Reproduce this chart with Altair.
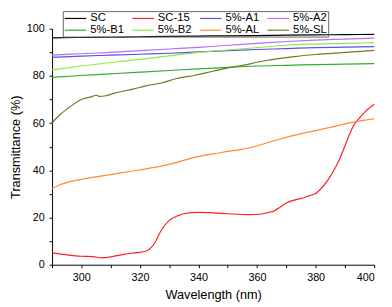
import altair as alt
import pandas as pd

# ---- data ----
SERIES = ["SC", "SC-15", "5%-A1", "5%-A2", "5%-B1", "5%-B2", "5%-AL", "5%-SL"]
COLORS = ["#000000", "#ff2020", "#5a50e6", "#b86ef0", "#2eae2e", "#86f040", "#ff8a3c", "#707a1e"]

sc_x = [290, 300, 310, 320, 330, 340, 350, 360, 370, 380, 390, 400]
sc_y = [96.1, 96.3, 96.4, 96.6, 96.8, 96.9, 97.0, 97.1, 97.3, 97.4, 97.5, 97.6]

sc15_x = [290, 295, 300, 304, 307, 310, 314, 319, 322, 324, 325, 327, 330, 333, 335, 340,
          345, 350, 357, 361, 364, 366, 368, 370, 373, 376, 378, 380, 382, 384, 386, 388,
          390, 391.6, 393, 395, 397, 398.3, 400]
sc15_y = [5.0, 4.2, 3.6, 3.4, 2.9, 3.3, 4.3, 5.1, 5.7, 7.5, 9.1, 14.0, 18.8, 20.8, 21.6, 22.2,
          22.0, 21.6, 21.2, 21.4, 22.2, 22.9, 24.5, 26.2, 27.5, 28.4, 29.3, 30.2, 32.5, 35.5, 39.5, 44.3,
          50.3, 55.4, 59.0, 62.2, 65.0, 66.4, 68.0]

a1_x = [290, 300, 310, 320, 330, 340, 350, 360, 370, 380, 390, 400]
a1_y = [87.9, 88.4, 88.8, 89.2, 89.6, 90.2, 90.7, 91.2, 91.6, 92.0, 92.2, 92.4]

a2_x = [290, 300, 310, 320, 330, 340, 350, 360, 370, 380, 390, 400]
a2_y = [88.8, 89.4, 90.0, 90.7, 91.4, 92.1, 93.0, 93.8, 94.6, 95.2, 95.6, 96.0]

b1_x = [290, 300, 310, 320, 330, 340, 350, 356, 360, 370, 380, 390, 400]
b1_y = [79.4, 80.2, 80.9, 81.6, 82.3, 83.0, 83.6, 84.0, 84.2, 84.5, 84.8, 85.0, 85.2]

b2_x = [290, 300, 311, 320, 330, 340, 350, 360, 370, 380, 390, 400]
b2_y = [82.6, 84.2, 85.8, 87.0, 88.5, 90.0, 91.0, 92.0, 93.0, 93.5, 93.8, 94.1]

al_x = [290, 292, 295, 300, 305, 310, 317, 322, 328, 333, 339, 345, 350, 355, 359, 363,
        368, 373, 380, 386, 392, 400]
al_y = [32.3, 33.5, 34.8, 36.2, 37.2, 38.2, 39.6, 40.6, 42.0, 43.5, 45.6, 47.0, 48.0, 49.0, 50.0, 51.5,
        53.3, 54.9, 56.8, 58.5, 60.2, 61.9]

sl_x = [290, 292, 295.7, 300, 303, 305.2, 306.3, 308, 311.3, 318, 322.4, 326.9, 332.5, 339,
        345, 350, 356, 360, 365, 372.6, 380, 389, 400]
sl_y = [60.0, 62.8, 66.5, 70.0, 71.0, 71.8, 71.3, 71.5, 72.7, 74.5, 75.9, 76.9, 78.9, 80.3,
        82.0, 83.4, 84.7, 85.8, 86.9, 88.2, 89.1, 89.9, 90.8]

xs = [sc_x, sc15_x, a1_x, a2_x, b1_x, b2_x, al_x, sl_x]
ys = [sc_y, sc15_y, a1_y, a2_y, b1_y, b2_y, al_y, sl_y]

rows = []
for name, xv, yv in zip(SERIES, xs, ys):
    for a, b in zip(xv, yv):
        rows.append({"series": name, "wl": a, "T": b})
df = pd.DataFrame(rows)

FONT = "Liberation Sans"

chart = alt.Chart(df).mark_line(strokeWidth=1.2, interpolate="monotone").encode(
    x=alt.X("wl:Q", scale=alt.Scale(domain=[290, 400], nice=False, zero=False),
            axis=alt.Axis(title="Wavelength (nm)", values=list(range(290, 401, 10)),
                          labelExpr="datum.value % 20 == 0 ? datum.label : ''",
                          tickSize=3, labelPadding=4, titlePadding=6)),
    y=alt.Y("T:Q", scale=alt.Scale(domain=[0, 100], nice=False),
            axis=alt.Axis(title="Transmittance (%)", values=list(range(0, 101, 10)),
                          labelExpr="datum.value % 20 == 0 ? datum.label : ''",
                          tickSize=3, labelPadding=5, titlePadding=4)),
    color=alt.Color("series:N", scale=alt.Scale(domain=SERIES, range=COLORS),
                    sort=SERIES,
                    legend=alt.Legend(title=None, orient="none", legendX=11, legendY=-18,
                                      direction="horizontal",
                                      columns=4, symbolType="M-1,0H3", symbolSize=121,
                                      symbolStrokeWidth=1.2, symbolFillColor="transparent",
                                      labelFontSize=11.5, labelFont=FONT,
                                      labelOffset=14, columnPadding=5, rowPadding=0,
                                      padding=1, strokeColor="#666666",
                                      labelColor="black")),
    order=alt.Order("wl:Q"),
).properties(
    width=329, height=241,
    autosize=alt.AutoSizeParams(type="none"),
    padding={"left": 45, "top": 18, "right": 10, "bottom": 40},
).configure_view(stroke=None).configure_axis(
    grid=False, domainColor="black", tickColor="black", labelColor="black",
    titleColor="black", labelFont=FONT, titleFont=FONT, labelFontSize=11,
    titleFontSize=13, titleFontWeight="normal", domainWidth=1,
)

chart.save("out.html", embed_options={"renderer": "svg", "actions": False})
